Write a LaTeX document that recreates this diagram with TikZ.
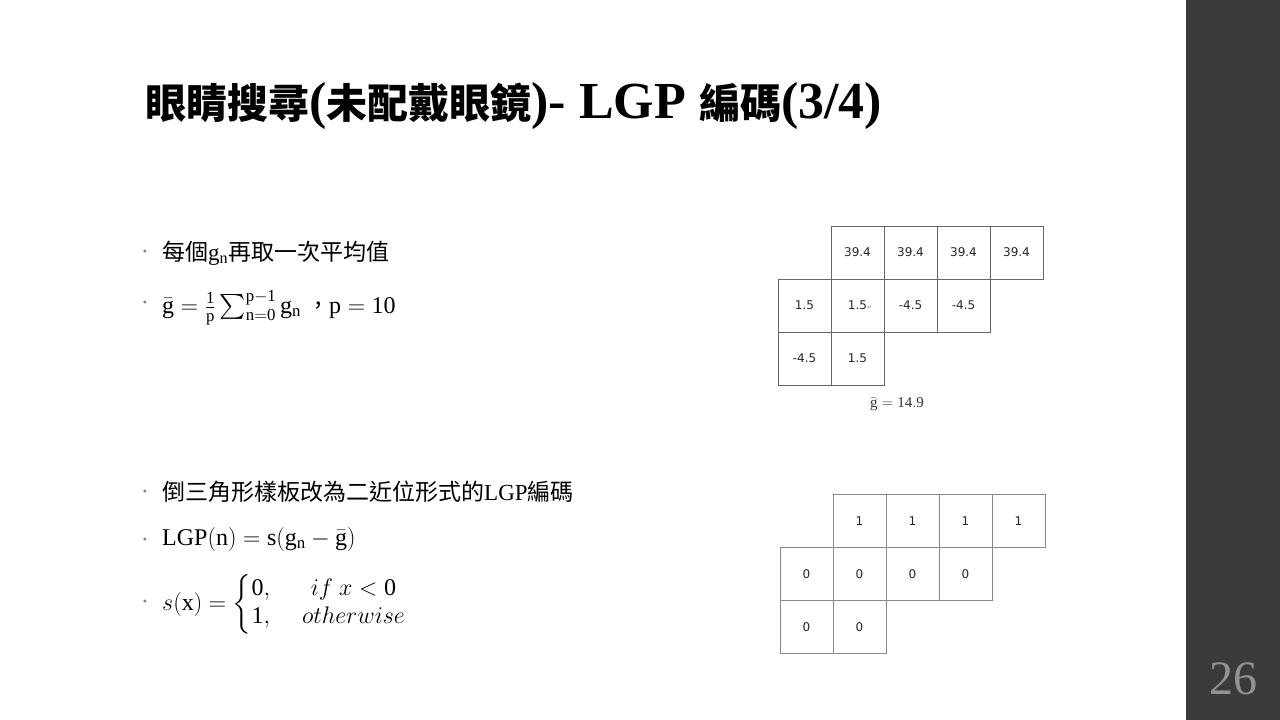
\RequirePackage{fix-cm}
\documentclass[tikz,border=0pt]{standalone}
\usepackage{amsmath}
\usepackage{fontspec}
\setmainfont{Liberation Serif}
\newfontfamily\cjk{Noto Sans CJK TC}
\newfontfamily\cellfont{DejaVu Sans}
\definecolor{sidebar}{HTML}{3A3A3C}
\definecolor{pagegray}{HTML}{929294}
\definecolor{darkline}{HTML}{666666}
\definecolor{lightline}{HTML}{8A8A8A}
\newcommand\tcjk[1]{{\cjk\fontsize{41}{44}\selectfont #1}}
\tikzset{
  cell/.style={draw=darkline, line width=1pt, minimum size=53pt, inner sep=0pt,
    font=\cellfont\fontsize{12}{14}\selectfont, text=black!85},
  bincell/.style={cell, draw=lightline},
  dot/.style={text=gray, font=\fontsize{12}{14}\selectfont, inner sep=0pt},
  body/.style={anchor=base west, inner sep=0pt, font=\cjk\fontsize{23}{26}\selectfont},
  mathline/.style={body, font=\fontsize{24}{28}\selectfont},
}
\begin{document}
\begin{tikzpicture}[x=1pt,y=-1pt]
  \useasboundingbox (0,0) rectangle (1280,720);
  \fill[sidebar] (1186,0) rectangle (1280,720);
  \node[font=\fontsize{48}{48}\selectfont, text=pagegray] (page) at (1233,679) {26};
  % title
  \node[anchor=base west, inner sep=0pt, font=\bfseries\fontsize{52}{54}\selectfont] (title) at (145,118)
    {\tcjk{眼睛搜尋}(\tcjk{未配戴眼鏡})- LGP \tcjk{編碼}(3/4)};
  % bullets
  \node[dot] (b1) at (145,253) {•};
  \node[dot] (b2) at (145,304) {•};
  \node[dot] (b3) at (145,493) {•};
  \node[dot] (b4) at (145,541) {•};
  \node[dot] (b5) at (145,603) {•};
  \node[body] (l1) at (162,260) {每個\(\mathrm{g}_{\mathrm{n}}\)再取一次平均值};
  \node[mathline] (l2) at (162,313)
    {\(\bar{\mathrm{g}} = \frac{\mathrm{1}}{\mathrm{p}}\sum_{\mathrm{n=0}}^{\mathrm{p-1}}\mathrm{g}_{\mathrm{n}}\) {\cjk\fontsize{22}{26}\selectfont ，}\(\mathrm{p} = \mathrm{10}\)};
  \node[body] (l3) at (162,500) {倒三角形樣板改為二近位形式的{\rmfamily LGP}編碼};
  \node[mathline] (l4) at (162,545) {\(\mathrm{LGP(n)} = \mathrm{s}(\mathrm{g}_{\mathrm{n}} - \bar{\mathrm{g}})\)};
  \node[mathline] (l5) at (162,610)
    {\(s(\mathrm{x}) = \left\{\begin{array}{@{}l@{\hspace{32pt}}c@{}} \mathrm{0}, & if\ x < \mathrm{0}\\ \mathrm{1}, & otherwise \end{array}\right.\)};
  % gradient grid
  \foreach \c/\r/\v in {1/0/39.4, 2/0/39.4, 3/0/39.4, 4/0/39.4, 0/1/1.5, 2/1/-4.5, 3/1/-4.5, 0/2/-4.5, 1/2/1.5}
    \node[cell] (g-\r-\c) at (804.5+53*\c, 252.5+53*\r) {\v};
  \node[cell] (g-1-1) at (857.5,305.5) {1.5\rlap{\fontsize{6}{6}\selectfont\color{gray}↵}};
  \node[font=\fontsize{15}{18}\selectfont, text=black!80] (gbar) at (897,404) {\(\bar{\mathrm{g}} = \mathrm{14.9}\)};
  % binary grid
  \foreach \c/\r/\v in {1/0/1, 2/0/1, 3/0/1, 4/0/1, 0/1/0, 1/1/0, 2/1/0, 3/1/0, 0/2/0, 1/2/0}
    \node[bincell] (s-\r-\c) at (806.5+53*\c, 521+53*\r) {\v};
\end{tikzpicture}
\end{document}
